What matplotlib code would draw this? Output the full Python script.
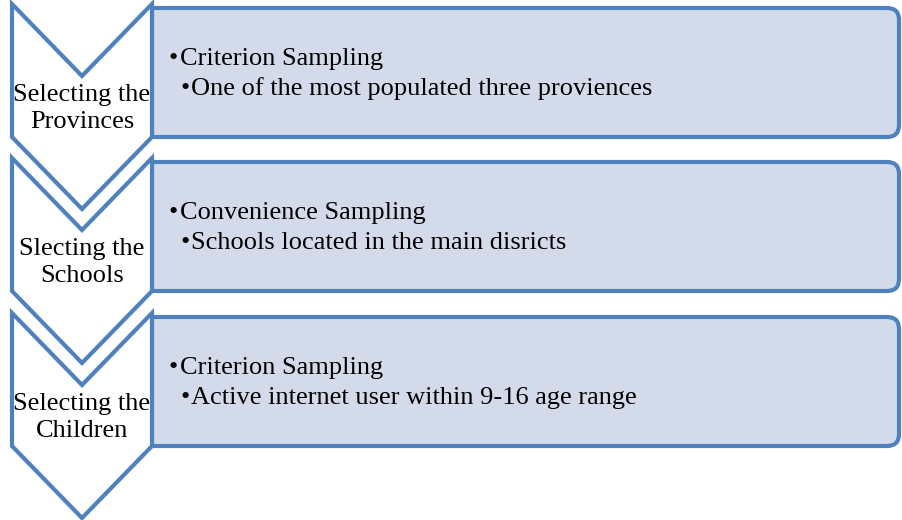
import matplotlib
matplotlib.use("Agg")
import matplotlib.pyplot as plt
from matplotlib.path import Path
from matplotlib.patches import PathPatch

stage_labels = ["Selecting the\nProvinces", "Slecting the\nSchools", "Selecting the\nChildren"]
methods = ["Criterion Sampling", "Convenience Sampling", "Criterion Sampling"]
details = ["One of the most populated three proviences",
           "Schools located in the main disricts",
           "Active internet user within 9-16 age range"]

W, H = 902, 520
fig = plt.figure(figsize=(W / 100, H / 100), dpi=100)
ax = fig.add_axes([0, 0, 1, 1])
ax.set_xlim(0, W)
ax.set_ylim(H, 0)
ax.axis("off")

edge = "#4F81BD"
fill = "#D3DBEB"
lw = 3.0
font = "Liberation Serif"
fs = 19

x0, x1, xm = 12, 152, 82
tops = [4, 158, 313]
body = 133
tip = 72
box_right = 899
r = 12

for i, top in enumerate(tops):
    bot = top + body
    # chevron
    verts = [(x0, top), (xm, top + tip), (x1, top), (x1, bot), (xm, bot + tip), (x0, bot), (x0, top)]
    codes = [Path.MOVETO] + [Path.LINETO] * 5 + [Path.CLOSEPOLY]
    ax.add_patch(PathPatch(Path(verts, codes), facecolor="white", edgecolor=edge, lw=lw, joinstyle="miter", zorder=2))
    # rounded-right box
    bt, bb = top + 4, bot
    bverts = [(x1, bt), (box_right - r, bt), (box_right, bt), (box_right, bt + r),
              (box_right, bb - r), (box_right, bb), (box_right - r, bb), (x1, bb), (x1, bt)]
    bcodes = [Path.MOVETO, Path.LINETO, Path.CURVE3, Path.CURVE3, Path.LINETO,
              Path.CURVE3, Path.CURVE3, Path.LINETO, Path.CLOSEPOLY]
    ax.add_patch(PathPatch(Path(bverts, bcodes), facecolor=fill, edgecolor=edge, lw=lw, zorder=1))
    # chevron label
    l1, l2 = stage_labels[i].split("\n")
    ax.text(xm, top + 97, l1, ha="center", va="baseline", fontsize=fs, family=font, zorder=3)
    ax.text(xm, top + 124, l2, ha="center", va="baseline", fontsize=fs, family=font, zorder=3)
    # box text
    ax.text(169, top + 61, "\u2022", ha="left", va="baseline", fontsize=fs, family=font, zorder=3)
    ax.text(180, top + 61, methods[i], ha="left", va="baseline", fontsize=fs, family=font, zorder=3)
    ax.text(180, top + 91, "\u2022", ha="left", va="baseline", fontsize=fs, family=font, zorder=3)
    ax.text(191, top + 91, details[i], ha="left", va="baseline", fontsize=fs, family=font, zorder=3)

fig.savefig("out.png", dpi=100)
